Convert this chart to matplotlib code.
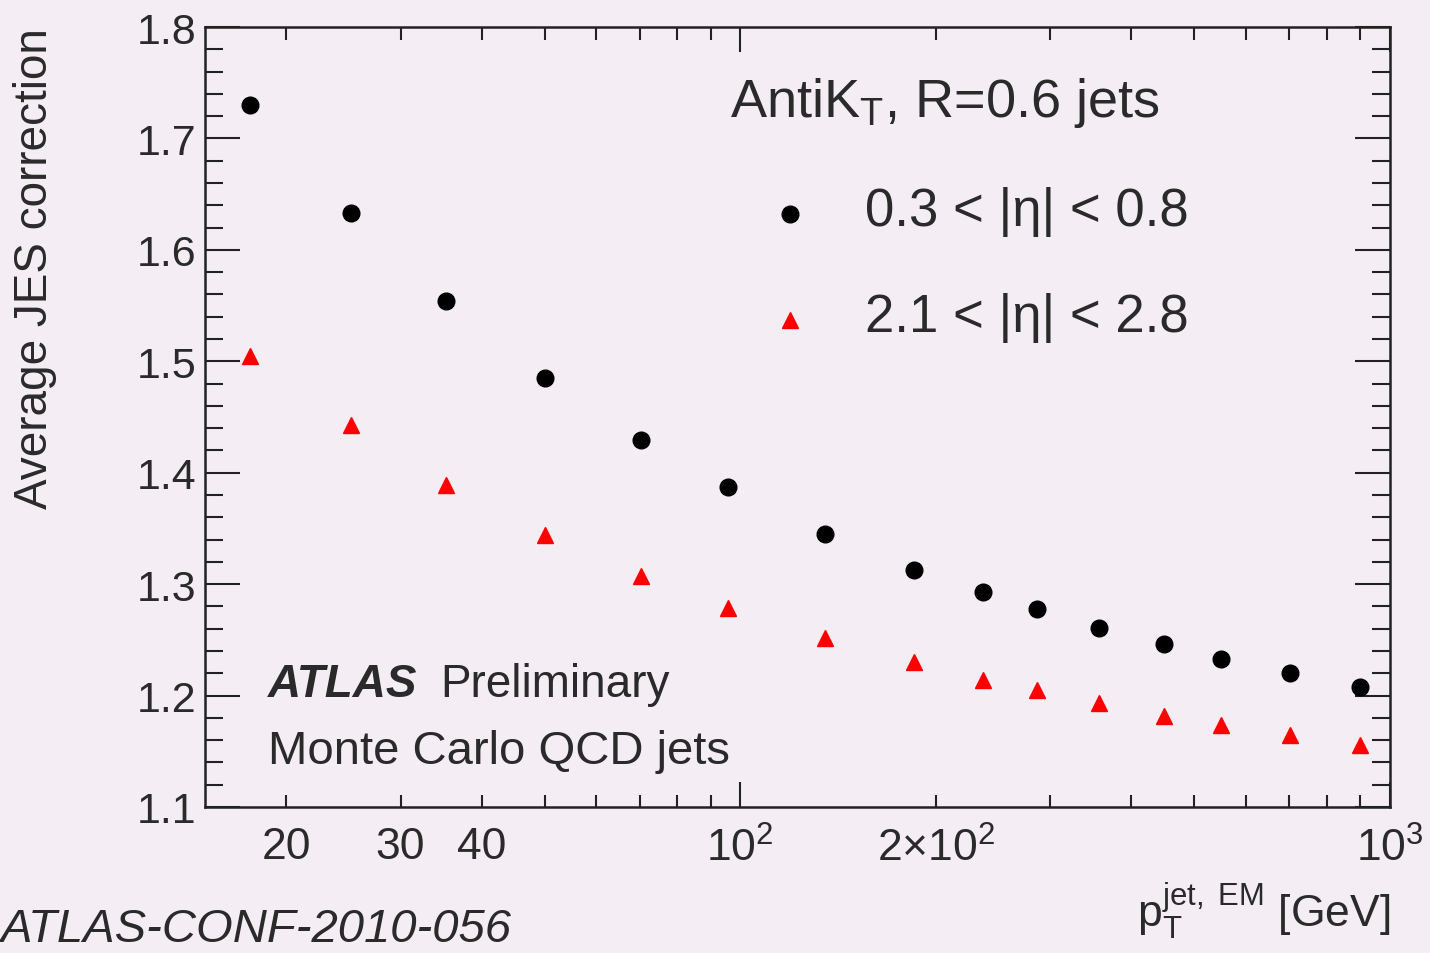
import matplotlib
matplotlib.use("Agg")
import matplotlib.pyplot as plt
from matplotlib.ticker import FixedLocator, FuncFormatter, MultipleLocator

plt.rcParams['font.family'] = ['Liberation Sans', 'DejaVu Sans']
plt.rcParams['mathtext.fontset'] = 'custom'
plt.rcParams['mathtext.rm'] = 'Liberation Sans'
plt.rcParams['mathtext.it'] = 'Liberation Sans:italic'

pt_values = [17.6, 25.2, 35.3, 50.1, 70.4, 95.8, 135, 185, 236, 286, 357, 449, 550, 702, 899]
central = [1.730, 1.633, 1.554, 1.485, 1.429, 1.387, 1.345, 1.313, 1.293, 1.278, 1.261, 1.246, 1.233, 1.220, 1.208]
forward = [1.505, 1.443, 1.389, 1.344, 1.307, 1.279, 1.252, 1.230, 1.214, 1.205, 1.193, 1.182, 1.174, 1.165, 1.156]
labels = ['0.3 < |η| < 0.8', '2.1 < |η| < 2.8']

bg = '#f4eef4'
tc = '#2a2a2a'
fig = plt.figure(figsize=(14.3, 9.54), dpi=100, facecolor=bg)
ax = fig.add_axes([205/1430, 1-808/954, (1390-205)/1430, (808-28)/954])
ax.set_facecolor(bg)

ax.plot(pt_values, central, 'o', color='black', markersize=12, linestyle='none')
ax.plot(pt_values, forward, '^', color='red', markersize=12, linestyle='none')

ax.set_xscale('log')
ax.set_xlim(15, 1000)
ax.set_ylim(1.1, 1.8)

major_x = [100, 1000]
minor_x = [20, 30, 40, 50, 60, 70, 80, 90, 200, 300, 400, 500, 600, 700, 800, 900]
minor_lab = {20: '20', 30: '30', 40: '40', 200: r'2$\times$10$^{2}$'}
ax.xaxis.set_major_locator(FixedLocator(major_x))
ax.xaxis.set_minor_locator(FixedLocator(minor_x))
ax.xaxis.set_major_formatter(FuncFormatter(lambda v, p: {100: r'10$^{2}$', 1000: r'10$^{3}$'}.get(int(round(v)), '')))
ax.xaxis.set_minor_formatter(FuncFormatter(lambda v, p: minor_lab.get(int(round(v)), '')))

ax.yaxis.set_major_locator(MultipleLocator(0.1))
ax.yaxis.set_minor_locator(MultipleLocator(0.02))
ax.yaxis.set_major_formatter(FuncFormatter(lambda v, p: f'{v:.1f}'))

for s in ax.spines.values():
    s.set_linewidth(1.8)
    s.set_color('#222222')

ax.tick_params(axis='both', which='both', direction='in', top=True, right=True, colors='#222222', width=1.5)
ax.tick_params(axis='y', which='major', length=25, labelsize=31, pad=6, labelcolor=tc)
ax.tick_params(axis='y', which='minor', length=13)
ax.tick_params(axis='x', which='major', length=18, labelsize=32, pad=14, labelcolor=tc)
ax.tick_params(axis='x', which='minor', length=9, labelsize=32, pad=14, labelcolor=tc)

fig.text(35/1430, 1-28/954, 'Average JES correction', rotation=90, ha='center', va='top', fontsize=33, color=tc)
fig.text(1390/1430, 1-942/954, r'p$_{\mathrm{T}}^{\mathrm{jet,\ EM}}$ [GeV]', ha='right', va='bottom', fontsize=32, color=tc)
fig.text(0.0, 1-952/954, 'ATLAS-CONF-2010-056', ha='left', va='bottom', fontsize=34, style='italic', color=tc)

fig.text(730/1430, 1-103/954, r'AntiK$_{\mathrm{T}}$, R=0.6 jets', ha='left', va='center', fontsize=39, color=tc)
fig.text(865/1430, 1-212/954, labels[0], ha='left', va='center', fontsize=38, color=tc)
fig.text(865/1430, 1-318/954, labels[1], ha='left', va='center', fontsize=38, color=tc)
ax.plot([0.494], [0.760], 'o', color='black', markersize=12, transform=ax.transAxes)
ax.plot([0.494], [0.625], '^', color='red', markersize=12, transform=ax.transAxes)

fig.text(268/1430, 1-685/954, 'ATLAS', ha='left', va='center', fontsize=33, weight='bold', style='italic', color=tc)
fig.text(440/1430, 1-685/954, 'Preliminary', ha='left', va='center', fontsize=33, color=tc)
fig.text(268/1430, 1-752/954, 'Monte Carlo QCD jets', ha='left', va='center', fontsize=34, color=tc)

fig.savefig('out.png', dpi=100, facecolor=bg)
